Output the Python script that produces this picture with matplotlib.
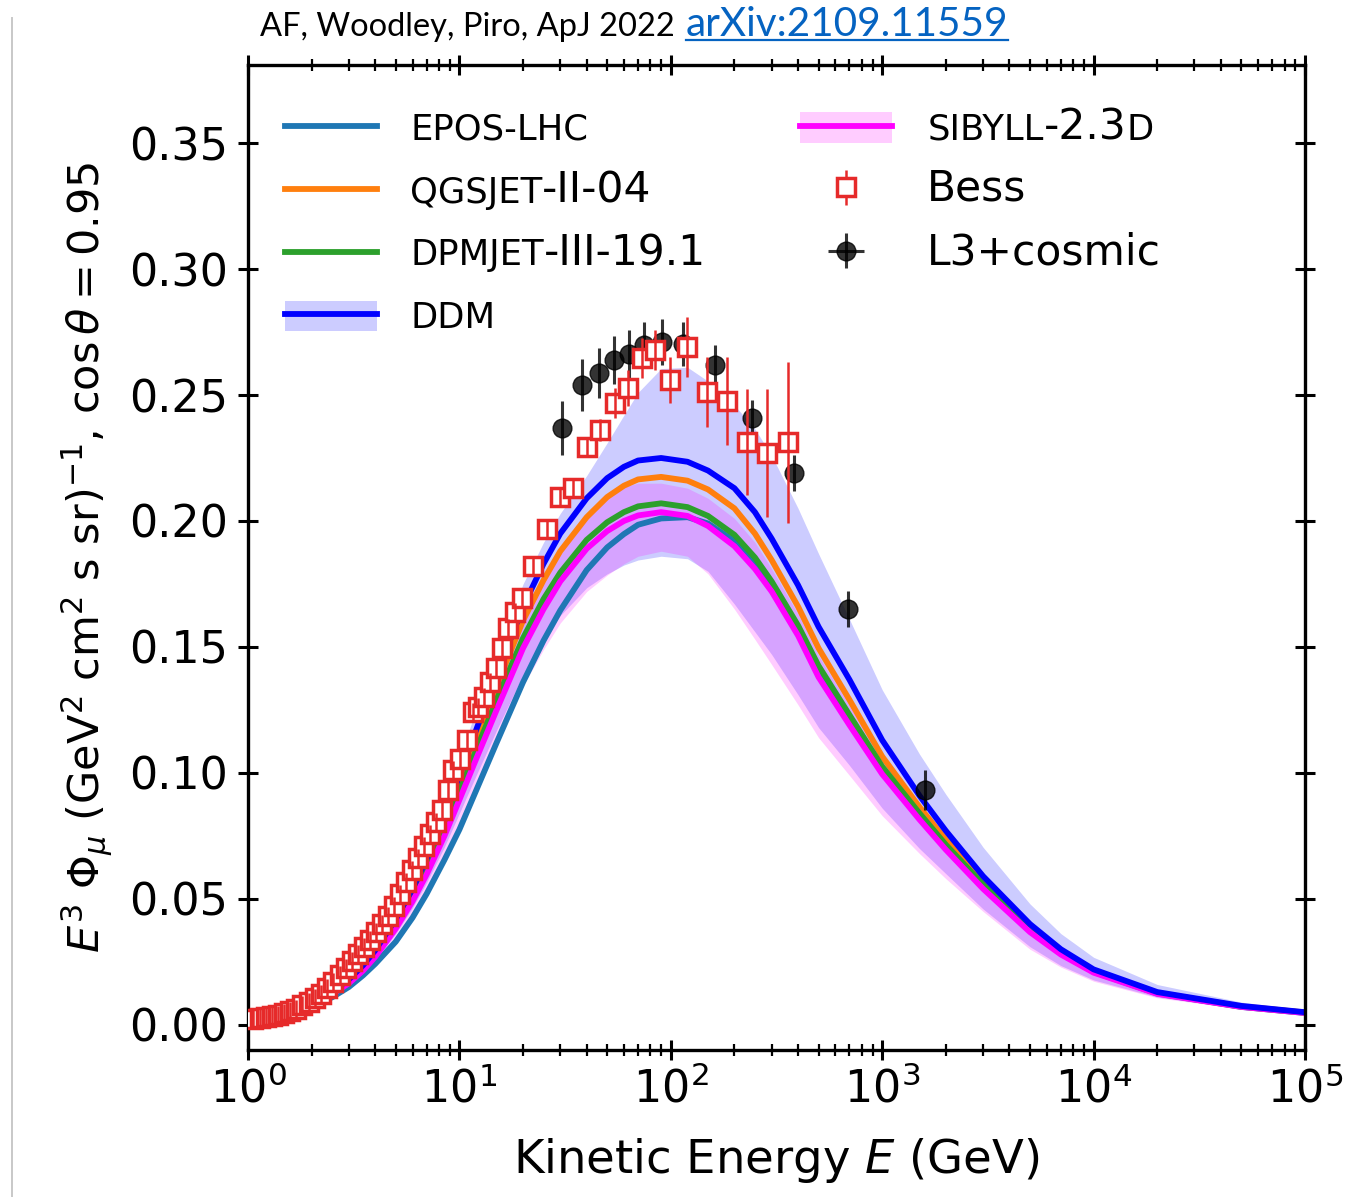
import matplotlib
matplotlib.use("Agg")
import matplotlib.pyplot as plt
from matplotlib.lines import Line2D
import numpy as np

plt.rcParams['font.family'] = 'DejaVu Sans'
plt.rcParams['mathtext.fontset'] = 'dejavusans'

# kinetic energy grid (GeV) on which the model curves are tabulated
energy = [1, 1.5, 2, 2.5, 3, 3.5, 4, 5, 6, 7, 8.5, 10, 12, 15, 20, 25, 30, 40, 50, 60,
          70, 90, 120, 150, 200, 250, 300, 400, 500, 700, 1000, 1500, 2000, 3000,
          5000, 7000, 1e4, 2e4, 5e4, 1e5]

# E^3 * flux for each hadronic interaction model
epos = [0.0036, 0.0052, 0.0077, 0.0109, 0.0150, 0.0196, 0.0242, 0.0330, 0.0425, 0.0520,
        0.0655, 0.0775, 0.0930, 0.1120, 0.1360, 0.1525, 0.1645, 0.1805, 0.1895, 0.1948,
        0.1985, 0.2010, 0.2015, 0.1990, 0.1920, 0.1835, 0.1745, 0.1575, 0.1410, 0.1220,
        0.1015, 0.0830, 0.0708, 0.0550, 0.0375, 0.0284, 0.0210, 0.0124, 0.0071, 0.0047]
qgsjet = [0.0041, 0.0060, 0.0090, 0.0128, 0.0175, 0.0229, 0.0287, 0.0407, 0.0524, 0.0640,
          0.0805, 0.0960, 0.1135, 0.1345, 0.1605, 0.1765, 0.1880, 0.2015, 0.2095, 0.2140,
          0.2165, 0.2175, 0.2160, 0.2125, 0.2050, 0.1950, 0.1845, 0.1660, 0.1495, 0.1290,
          0.1065, 0.0865, 0.0735, 0.0570, 0.0388, 0.0292, 0.0215, 0.0127, 0.0073, 0.0049]
dpmjet = [0.0040, 0.0059, 0.0088, 0.0125, 0.0170, 0.0222, 0.0279, 0.0396, 0.0508, 0.0620,
          0.0778, 0.0925, 0.1090, 0.1290, 0.1535, 0.1690, 0.1795, 0.1925, 0.1995, 0.2035,
          0.2058, 0.2070, 0.2055, 0.2020, 0.1945, 0.1855, 0.1760, 0.1585, 0.1425, 0.1230,
          0.1025, 0.0840, 0.0715, 0.0557, 0.0380, 0.0287, 0.0212, 0.0126, 0.0072, 0.0048]
sibyll = [0.0039, 0.0057, 0.0085, 0.0121, 0.0165, 0.0215, 0.0270, 0.0382, 0.0490, 0.0597,
          0.0750, 0.0893, 0.1055, 0.1250, 0.1495, 0.1650, 0.1760, 0.1890, 0.1960, 0.2000,
          0.2022, 0.2035, 0.2020, 0.1980, 0.1900, 0.1810, 0.1720, 0.1545, 0.1380, 0.1190,
          0.0995, 0.0815, 0.0695, 0.0540, 0.0368, 0.0279, 0.0207, 0.0123, 0.0071, 0.0047]
sibyll_lo = [0.0035, 0.0051, 0.0076, 0.0108, 0.0148, 0.0193, 0.0242, 0.0342, 0.0440, 0.0535,
             0.0672, 0.0800, 0.0945, 0.1125, 0.1345, 0.1490, 0.1595, 0.1720, 0.1785, 0.1830,
             0.1860, 0.1880, 0.1860, 0.1790, 0.1650, 0.1530, 0.1430, 0.1270, 0.1140, 0.0990,
             0.0830, 0.0680, 0.0580, 0.0450, 0.0300, 0.0229, 0.0173, 0.0107, 0.0063, 0.0043]
sibyll_hi = [0.0043, 0.0063, 0.0094, 0.0134, 0.0182, 0.0238, 0.0298, 0.0422, 0.0542, 0.0660,
             0.0828, 0.0985, 0.1160, 0.1370, 0.1630, 0.1790, 0.1900, 0.2030, 0.2100, 0.2135,
             0.2150, 0.2150, 0.2130, 0.2090, 0.2010, 0.1915, 0.1810, 0.1630, 0.1465, 0.1265,
             0.1050, 0.0855, 0.0725, 0.0563, 0.0383, 0.0290, 0.0214, 0.0128, 0.0073, 0.0049]
ddm = [0.0042, 0.0062, 0.0092, 0.0132, 0.0180, 0.0236, 0.0296, 0.0420, 0.0540, 0.0660,
       0.0830, 0.0990, 0.1170, 0.1390, 0.1660, 0.1830, 0.1950, 0.2090, 0.2170, 0.2215,
       0.2240, 0.2250, 0.2235, 0.2200, 0.2130, 0.2035, 0.1930, 0.1745, 0.1580, 0.1370,
       0.1130, 0.0910, 0.0770, 0.0590, 0.0400, 0.0300, 0.0220, 0.0130, 0.0075, 0.0050]
ddm_lo = [0.0037, 0.0055, 0.0081, 0.0116, 0.0157, 0.0205, 0.0257, 0.0362, 0.0465, 0.0565,
          0.0707, 0.0840, 0.0990, 0.1170, 0.1390, 0.1530, 0.1625, 0.1735, 0.1790, 0.1825,
          0.1845, 0.1860, 0.1850, 0.1800, 0.1670, 0.1560, 0.1470, 0.1310, 0.1180, 0.1030,
          0.0860, 0.0700, 0.0600, 0.0460, 0.0310, 0.0235, 0.0178, 0.0110, 0.0065, 0.0044]
ddm_hi = [0.0046, 0.0068, 0.0101, 0.0145, 0.0197, 0.0258, 0.0323, 0.0455, 0.0585, 0.0712,
          0.0893, 0.1060, 0.1250, 0.1475, 0.1750, 0.1915, 0.2030, 0.2180, 0.2310, 0.2420,
          0.2510, 0.2605, 0.2610, 0.2555, 0.2460, 0.2365, 0.2260, 0.2050, 0.1870, 0.1610,
          0.1330, 0.1075, 0.0915, 0.0705, 0.0480, 0.0362, 0.0268, 0.0160, 0.0090, 0.0060]

# BESS-TeV muon data
bess_e = [1.06, 1.14, 1.22, 1.30, 1.39, 1.48, 1.58, 1.69, 1.80, 1.94, 2.08, 2.22,
          2.36, 2.52, 2.72, 2.91, 3.11, 3.31, 3.54, 3.78, 4.03, 4.31, 4.60, 4.91,
          5.24, 5.59, 5.97, 6.37, 6.80, 7.26, 7.75, 8.28, 8.83, 9.33, 10.07, 10.86,
          11.60, 12.25, 13.07, 13.95, 14.90, 15.91, 16.98, 18.32, 19.78, 22.30,
          25.97, 29.92, 34.46, 40.14, 46.25, 54.45, 62.75, 73.09, 84.20, 99.1,
          119.3, 148.3, 184.5, 229.3, 285.1, 358.4]
bess_f = [0.0024, 0.0028, 0.0032, 0.0036, 0.0040, 0.0048, 0.0056, 0.0063, 0.0079,
          0.0091, 0.0107, 0.0123, 0.0147, 0.0171, 0.0198, 0.0226, 0.0254, 0.0282,
          0.0310, 0.0337, 0.0369, 0.0401, 0.0433, 0.0472, 0.0520, 0.0567, 0.0615,
          0.0663, 0.0710, 0.0758, 0.0806, 0.0853, 0.0933, 0.1012, 0.1056, 0.1131,
          0.1242, 0.1262, 0.1302, 0.1361, 0.1417, 0.1496, 0.1575, 0.1639, 0.1694,
          0.1821, 0.1968, 0.2095, 0.2131, 0.2294, 0.2361, 0.2468, 0.2528, 0.2647,
          0.2679, 0.2560, 0.2690, 0.2512, 0.2476, 0.2313, 0.2270, 0.2313]
bess_err = [0.0035] * 45 + [0.0035, 0.004, 0.004, 0.004, 0.004, 0.0045, 0.006, 0.007,
                            0.008, 0.008, 0.009, 0.012, 0.014, 0.0175, 0.021, 0.0255,
                            0.032]

# L3+cosmic muon data
l3_e = [30.57, 38.01, 45.75, 53.86, 63.43, 74.68, 90.87, 114.2, 161.8, 242.2,
        382.6, 689.0, 1594.0]
l3_f = [0.2369, 0.2540, 0.2587, 0.2639, 0.2663, 0.2698, 0.2710, 0.2702, 0.2619,
        0.2409, 0.2190, 0.1651, 0.0933]
l3_err = [0.0106, 0.0104, 0.0100, 0.0095, 0.0095, 0.0090, 0.0090, 0.0086, 0.0080,
          0.0073, 0.0070, 0.0070, 0.0080]

W, H = 1355, 1197
fig = plt.figure(figsize=(W / 100, H / 100), dpi=100)
ax = fig.add_axes([248 / W, 1 - 1050 / H, (1305 - 248) / W, (1050 - 65) / H])

band_ddm = ax.fill_between(energy, ddm_lo, ddm_hi, color='blue', alpha=0.2, lw=0, zorder=1)
band_sib = ax.fill_between(energy, sibyll_lo, sibyll_hi, color='magenta', alpha=0.2, lw=0, zorder=1)

lw = 4.2
l_epos, = ax.plot(energy, epos, color='#1f77b4', lw=lw, zorder=2)
l_qgs, = ax.plot(energy, qgsjet, color='#ff7f0e', lw=lw, zorder=2)
l_dpm, = ax.plot(energy, dpmjet, color='#2ca02c', lw=lw, zorder=2)
l_sib, = ax.plot(energy, sibyll, color='magenta', lw=lw, zorder=2)
l_ddm, = ax.plot(energy, ddm, color='blue', lw=lw, zorder=2)

eb_l3 = ax.errorbar(l3_e, l3_f, yerr=l3_err, xerr=np.zeros(len(l3_e)), fmt='o',
                    color='k', ms=13.5, elinewidth=2.2, alpha=0.8, capsize=0, zorder=3)
eb_bess = ax.errorbar(bess_e, bess_f, yerr=bess_err, fmt='s', color='#e62a2a',
                      mfc='white', mec='#e62a2a', mew=2.5, ms=12.5, elinewidth=1.8,
                      capsize=0, zorder=4)
eb_bess[2][0].set_zorder(4.2)

ax.set_xscale('log')
ax.set_xlim(1, 1e5)
ax.set_ylim(-0.01, 0.381)
ax.set_yticks(np.arange(0, 0.36, 0.05))
ax.tick_params(which='both', direction='inout', top=True, right=True, labelsize=32)
ax.tick_params(which='major', length=15, width=2.2)
ax.tick_params(axis='y', pad=7)
ax.tick_params(axis='x', which='major', pad=5)
ax.tick_params(which='minor', length=8, width=1.6)
for s in ax.spines.values():
    s.set_linewidth(2.4)

ax.set_xlabel(r'Kinetic Energy $E$ (GeV)', fontsize=33.5, labelpad=17)
ax.set_ylabel(r'$E^3\ \Phi_\mu$ (GeV$^2$ cm$^2$ s sr)$^{-1}$, $\cos\theta = 0.95$',
              fontsize=31, labelpad=10)

small, big = 25.5, 30.5
leg1 = ax.legend([l_epos, l_qgs, l_dpm, (band_ddm, l_ddm)],
                 ['EPOS-LHC', 'QGSJET', 'DPMJET', 'DDM'],
                 loc='upper left', bbox_to_anchor=(0.035, 0.952), borderaxespad=0,
                 borderpad=0, frameon=False, fontsize=small, handlelength=2.6,
                 handleheight=0.95, handletextpad=0.93, labelspacing=0.8)
ax.add_artist(leg1)
leg2 = ax.legend([(band_sib, l_sib), eb_bess, eb_l3],
                 ['SIBYLL', 'Bess', 'L3+cosmic'],
                 loc='upper left', bbox_to_anchor=(0.522, 0.952), borderaxespad=0,
                 borderpad=0, frameon=False, fontsize=small, handlelength=2.6,
                 handleheight=0.95, handletextpad=1.0, labelspacing=0.6)
for t in leg2.get_texts()[1:]:
    t.set_fontsize(big)

# header line above the axes
head = fig.text(260 / W, 1 - 36 / H, 'AF, Woodley, Piro, ApJ 2022', fontsize=23.5,
                family='Lato', va='baseline', ha='left')
link = fig.text(0, 0, 'arXiv:2109.11559', fontsize=29.2, family='Lato', color='#0563c1')

fig.canvas.draw()
renderer = fig.canvas.get_renderer()


def descent_pt(text):
    _, _, d = renderer.get_text_width_height_descent('lp', text.get_fontproperties(), ismath=False)
    return d * 72 / fig.dpi


def append_text(prev, s, fs):
    # continue a label on the same baseline with another font size
    return ax.annotate(s, xy=(1, 0), xycoords=prev, xytext=(0, descent_pt(prev)),
                       textcoords='offset points', va='baseline', ha='left', fontsize=fs)


append_text(leg1.get_texts()[1], '-II-04', big)
append_text(leg1.get_texts()[2], '-III-19.1', big)
tail = append_text(leg2.get_texts()[0], '-2.3', big)
append_text(tail, 'D', small)

# place link right after the header and underline it
hb = head.get_window_extent(renderer)
link.set_position(((hb.x1 + 11) / W, 1 - 36 / H))
link.set_va('baseline')
fig.canvas.draw()
lb = link.get_window_extent(renderer)
uy = (lb.y0 + descent_pt(link) * fig.dpi / 72 - 4) / H
fig.add_artist(Line2D([lb.x0 / W, lb.x1 / W], [uy, uy], transform=fig.transFigure,
                      color='#0563c1', lw=1.6))

# slide border on the left
fig.add_artist(Line2D([12 / W, 12 / W], [0, 0.985], transform=fig.transFigure,
                      color='#c8c8c8', lw=1.4))

fig.savefig('out.png', dpi=100)
